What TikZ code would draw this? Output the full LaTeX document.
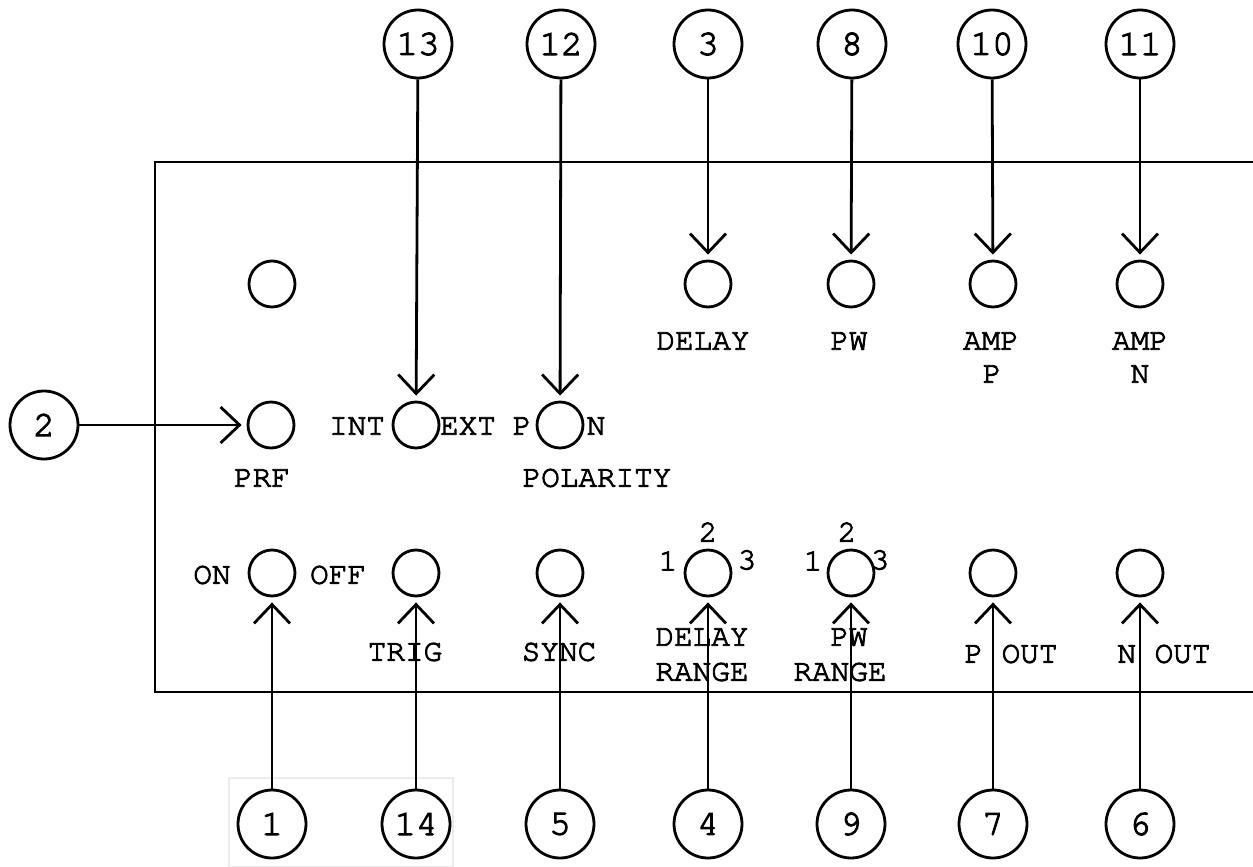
\documentclass[tikz,border=0pt]{standalone}
\usepackage{fontspec}
\setmonofont[FakeBold=3]{TeX Gyre Cursor}
\usetikzlibrary{arrows.meta,positioning}
\tikzset{
  callout/.style={circle,draw,line width=1.4pt,minimum size=34pt,inner sep=0pt,font=\ttfamily\fontsize{18}{18}\selectfont},
  knob/.style={circle,draw,line width=1.4pt,minimum size=23pt,inner sep=0pt},
  lbl/.style={inner sep=0pt,font=\ttfamily\fontsize{15.5}{15.5}\selectfont},
  pointer/.style={line width=1.4pt,-{Straight Barb[length=9.5pt,width=18pt]},shorten >=2.5pt}
}

\begin{document}
\begin{tikzpicture}[x=0.5pt,y=-0.5pt]
\useasboundingbox (0,0) rectangle (1253,867);
% panel outline, open on the right
\draw[line width=1.4pt] (1253,162) -- (155,162) -- (155,692) -- (1253,692);
\draw[gray!15,line width=0.6pt] (229,778) rectangle (453,867);

% knobs
\node[knob] (kspare) at (272,284) {};
\foreach \n/\x in {delay/708,pw/851,ampp/993,ampn/1140}{\node[knob] (k\n) at (\x,284) {};}
\foreach \n/\x in {prf/271,int/416,pol/560}{\node[knob] (k\n) at (\x,425) {};}
\foreach \n/\x in {power/272,trig/416,sync/560,dr/708,pr/851,pout/993,nout/1140}{\node[knob] (k\n) at (\x,573) {};}

% labels
\node[lbl] at (703,341) {DELAY};
\node[lbl] at (849,341) {PW};
\node[lbl] at (991,341) {AMP};
\node[lbl] at (992,374) {P};
\node[lbl] at (1140,341) {AMP};
\node[lbl] at (1140,374) {N};
\node[lbl] at (262,478) {PRF};
\node[lbl] at (357,426) {INT};
\node[lbl] at (468,426) {EXT};
\node[lbl] at (522,426) {P};
\node[lbl] at (596,426) {N};
\node[lbl] at (597,478) {POLARITY};
\node[lbl] at (212,575) {ON};
\node[lbl] at (338,575) {OFF};
\node[lbl] at (668,561) {1};
\node[lbl] at (708,532) {2};
\node[lbl] at (747,560) {3};
\node[lbl] at (813,561) {1};
\node[lbl] at (847,532) {2};
\node[lbl] at (880,560) {3};
\node[lbl] at (405,652) {TRIG};
\node[lbl] at (559,652) {SYNC};
\node[lbl] at (702,637) {DELAY};
\node[lbl] at (702,672) {RANGE};
\node[lbl] at (849,637) {PW};
\node[lbl] at (840,672) {RANGE};
\node[lbl] at (1011,654) {P OUT};
\node[lbl] at (1164,654) {N OUT};

% callouts and pointers
\foreach \t/\x/\k in {13/418/int,12/561/pol,3/708/delay,8/852/pw,10/992/ampp,11/1140/ampn}{
  \node[callout] (c\t) at (\x,44) {\t};
  \draw[pointer] (c\t) -- (k\k);
}
\node[callout] (c2) at (44,425) {2};
\draw[pointer] (c2) -- (kprf);
\foreach \t/\x/\k in {1/272/power,14/416/trig,5/560/sync,4/708/dr,9/851/pr,7/993/pout,6/1140/nout}{
  \node[callout] (c\t) at (\x,824) {\t};
  \draw[pointer] (c\t) -- (k\k);
}
\end{tikzpicture}
\end{document}
